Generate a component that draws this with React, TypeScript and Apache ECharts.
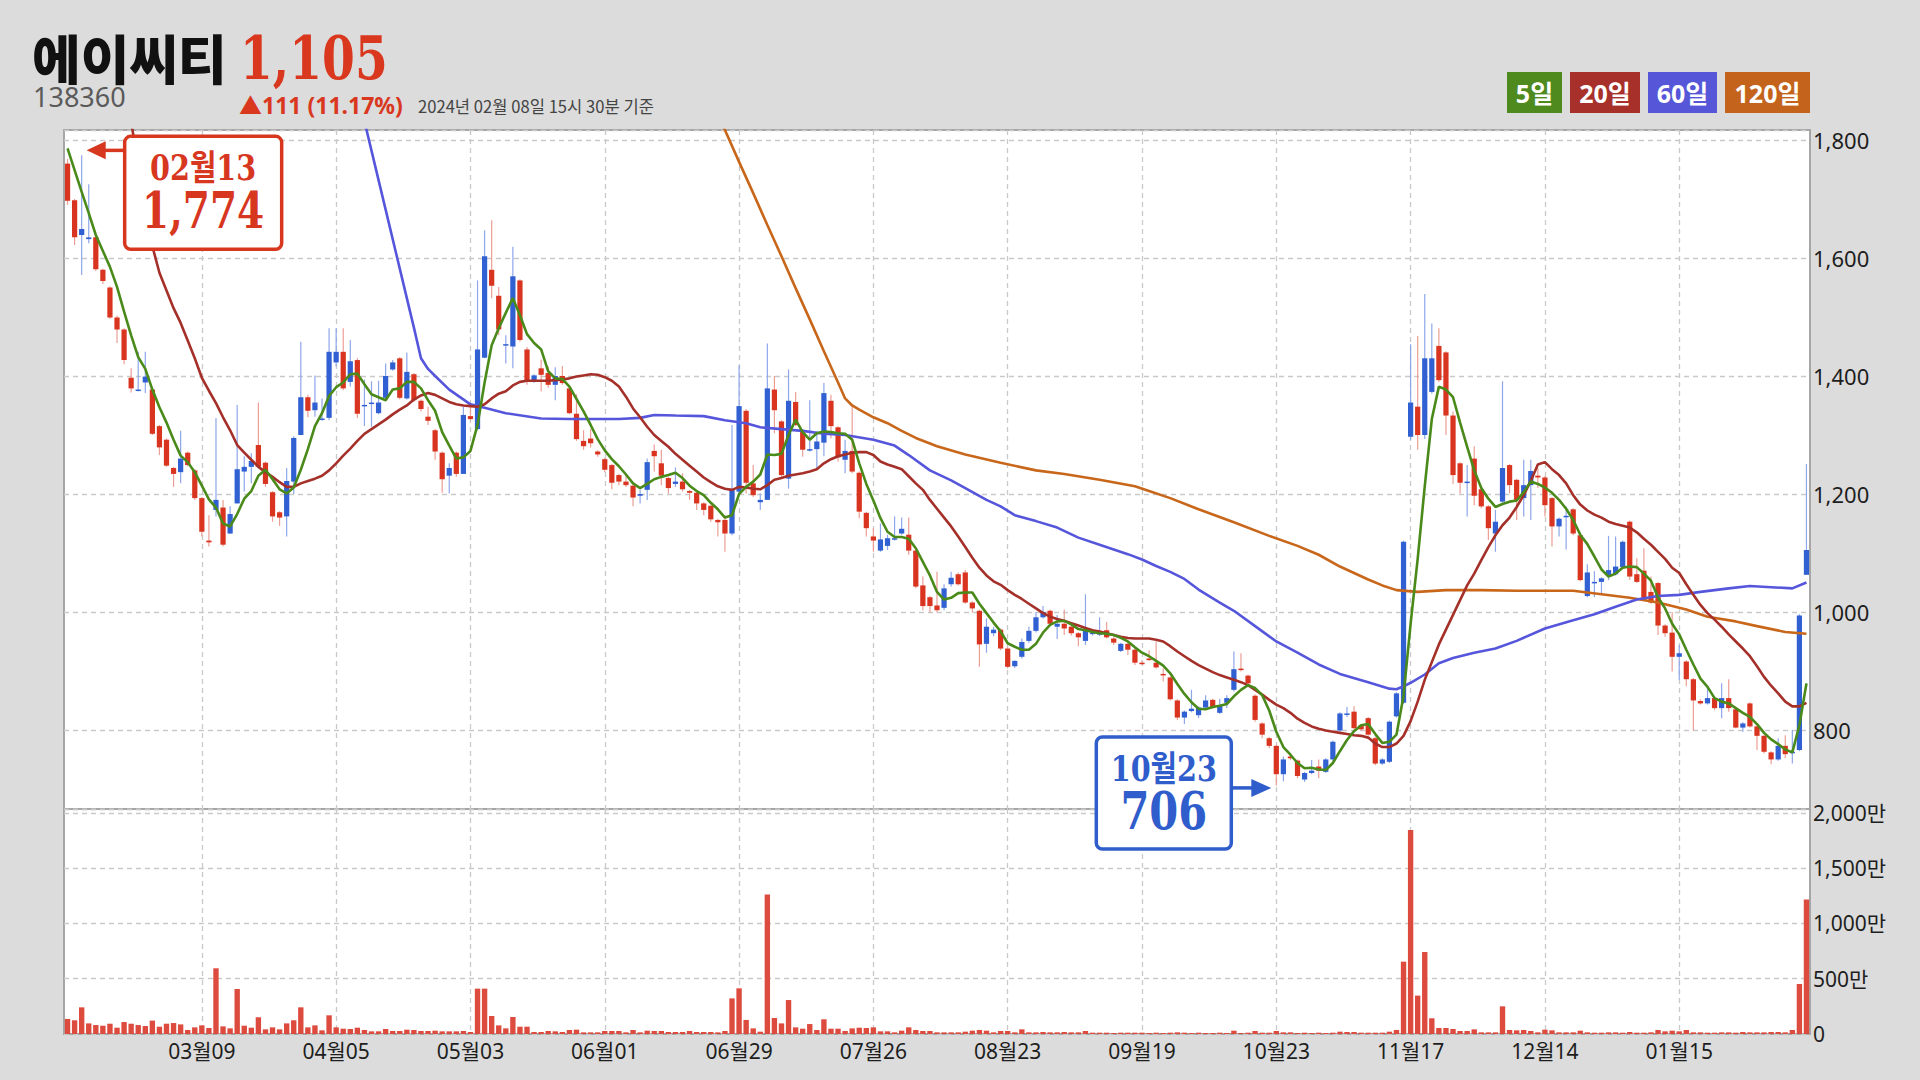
import React, { useEffect, useRef } from 'react';
import * as echarts from 'echarts';

// ---------------- data ----------------
const MONTH_DAYS: [string, number[]][] = [
  ['02', [9, 10, 13, 14, 15, 16, 17, 20, 21, 22, 23, 24, 27, 28]],
  ['03', [2, 3, 6, 7, 8, 9, 10, 13, 14, 15, 16, 17, 20, 21, 22, 23, 24, 27, 28, 29, 30, 31]],
  ['04', [3, 4, 5, 6, 7, 10, 11, 12, 13, 14, 17, 18, 19, 20, 21, 24, 25, 26, 27, 28]],
  ['05', [2, 3, 4, 8, 9, 10, 11, 12, 15, 16, 17, 18, 19, 22, 23, 24, 25, 26, 30, 31]],
  ['06', [1, 2, 5, 7, 8, 9, 12, 13, 14, 15, 16, 19, 20, 21, 22, 23, 26, 27, 28, 29, 30]],
  ['07', [3, 4, 5, 6, 7, 10, 11, 12, 13, 14, 17, 18, 19, 20, 21, 24, 25, 26, 27, 28, 31]],
  ['08', [1, 2, 3, 4, 7, 8, 9, 10, 11, 14, 16, 17, 18, 21, 22, 23, 24, 25, 28, 29, 30, 31]],
  ['09', [1, 4, 5, 6, 7, 8, 11, 12, 13, 14, 15, 18, 19, 20, 21, 22, 25, 26, 27]],
  ['10', [4, 5, 6, 10, 11, 12, 13, 16, 17, 18, 19, 20, 23, 24, 25, 26, 27, 30, 31]],
  ['11', [1, 2, 3, 6, 7, 8, 9, 10, 13, 14, 15, 16, 17, 20, 21, 22, 23, 24, 27, 28, 29, 30]],
  ['12', [1, 4, 5, 6, 7, 8, 11, 12, 13, 14, 15, 18, 19, 20, 21, 22, 26, 27, 28]],
  ['01', [2, 3, 4, 5, 8, 9, 10, 11, 12, 15, 16, 17, 18, 19, 22, 23, 24, 25, 26, 29, 30, 31]],
  ['02', [1, 2, 5, 6, 7, 8]],
];
const DATES: string[] = MONTH_DAYS.flatMap(([m, ds]) => ds.map((d) => `${m}월${String(d).padStart(2, '0')}`));

const TICK_LABELS = ['03월09', '04월05', '05월03', '06월01', '06월29', '07월26', '08월23', '09월19', '10월23', '11월17', '12월14', '01월15'];

const OPEN = [
  1760, 1698, 1639, 1632, 1635, 1580, 1550, 1499, 1479, 1397,
  1375, 1389, 1377, 1315, 1292, 1244, 1237, 1270, 1240, 1193,
  1121, 1173, 1177, 1133, 1184, 1238, 1246, 1283, 1253, 1203,
  1169, 1162, 1221, 1300, 1364, 1342, 1327, 1329, 1423, 1441,
  1390, 1427, 1349, 1353, 1337, 1363, 1411, 1430, 1362, 1403,
  1358, 1331, 1308, 1270, 1231, 1270, 1234, 1332, 1310, 1431,
  1580, 1536, 1453, 1450, 1562, 1445, 1393, 1413, 1405, 1385,
  1400, 1379, 1336, 1290, 1294, 1272, 1259, 1249, 1232, 1221,
  1214, 1197, 1207, 1273, 1252, 1227, 1217, 1221, 1205, 1202,
  1184, 1180, 1156, 1156, 1133, 1204, 1341, 1218, 1186, 1190,
  1377, 1323, 1226, 1356, 1308, 1275, 1276, 1287, 1358, 1313,
  1258, 1273, 1236, 1168, 1128, 1104, 1112, 1123, 1133, 1131,
  1104, 1045, 1025, 1011, 1007, 1047, 1064, 1067, 1016, 1002,
  946, 964, 970, 938, 908, 924, 951, 968, 991, 1002,
  975, 980, 975, 964, 951, 963, 962, 969, 955, 934,
  946, 936, 914, 921, 914, 895, 889, 850, 821, 832,
  825, 838, 851, 829, 846, 868, 904, 892, 858, 811,
  786, 773, 725, 755, 748, 716, 727, 738, 729, 750,
  799, 827, 831, 808, 820, 786, 743, 746, 823, 846,
  1297, 1348, 1300, 1373, 1451, 1440, 1333, 1252, 1219, 1260,
  1208, 1179, 1133, 1187, 1249, 1224, 1193, 1215, 1231, 1228,
  1193, 1145, 1162, 1174, 1130, 1027, 1050, 1051, 1061, 1064,
  1076, 1153, 1064, 1070, 1034, 1049, 977, 965, 924, 916,
  886, 849, 845, 854, 837, 854, 835, 804, 845, 806,
  790, 762, 750, 773, 761, 766, 1063,
];
const CLOSE = [
  1697, 1635, 1649, 1635, 1581, 1561, 1499, 1479, 1427, 1379,
  1377, 1399, 1302, 1279, 1248, 1234, 1260, 1249, 1193, 1136,
  1118, 1190, 1114, 1166, 1242, 1246, 1256, 1246, 1217, 1162,
  1160, 1222, 1295, 1364, 1341, 1355, 1328, 1441, 1441, 1379,
  1425, 1336, 1351, 1355, 1355, 1400, 1423, 1363, 1407, 1359,
  1344, 1324, 1272, 1225, 1244, 1234, 1334, 1327, 1445, 1603,
  1553, 1479, 1454, 1569, 1461, 1393, 1401, 1402, 1385, 1400,
  1388, 1337, 1293, 1281, 1286, 1267, 1241, 1219, 1221, 1215,
  1194, 1200, 1254, 1264, 1231, 1210, 1221, 1208, 1202, 1184,
  1173, 1157, 1152, 1133, 1207, 1349, 1219, 1198, 1190, 1379,
  1342, 1232, 1358, 1317, 1275, 1276, 1289, 1371, 1315, 1262,
  1273, 1238, 1170, 1142, 1121, 1123, 1125, 1125, 1141, 1104,
  1043, 1010, 1010, 1003, 1040, 1058, 1047, 1016, 1006, 945,
  975, 970, 938, 907, 917, 949, 968, 991, 1000, 980,
  980, 972, 964, 957, 971, 965, 964, 957, 948, 946,
  936, 914, 912, 919, 906, 893, 852, 821, 831, 836,
  838, 850, 838, 841, 854, 903, 902, 879, 817, 792,
  773, 725, 750, 752, 722, 727, 731, 731, 750, 780,
  828, 828, 803, 801, 792, 743, 750, 814, 862, 1119,
  1355, 1300, 1430, 1430, 1393, 1333, 1232, 1219, 1221, 1197,
  1179, 1142, 1153, 1244, 1215, 1190, 1215, 1239, 1228, 1181,
  1145, 1158, 1163, 1133, 1054, 1067, 1051, 1057, 1071, 1077,
  1119, 1060, 1051, 1020, 1016, 977, 964, 924, 930, 886,
  850, 845, 854, 837, 854, 837, 804, 811, 806, 790,
  763, 750, 773, 759, 763, 994, 1105,
];
const LOW = [
  1690, 1622, 1571, 1625, 1578, 1556, 1497, 1456, 1420, 1372,
  1374, 1371, 1300, 1266, 1246, 1212, 1218, 1247, 1190, 1128,
  1111, 1162, 1111, 1132, 1184, 1204, 1218, 1244, 1212, 1153,
  1146, 1128, 1200, 1300, 1330, 1331, 1324, 1325, 1416, 1376,
  1382, 1329, 1315, 1314, 1335, 1359, 1409, 1360, 1360, 1356,
  1340, 1317, 1258, 1202, 1201, 1229, 1234, 1325, 1308, 1430,
  1532, 1469, 1421, 1413, 1458, 1385, 1388, 1374, 1380, 1359,
  1385, 1335, 1290, 1275, 1279, 1263, 1237, 1208, 1215, 1212,
  1179, 1184, 1190, 1238, 1215, 1201, 1212, 1204, 1190, 1173,
  1164, 1153, 1128, 1102, 1130, 1201, 1201, 1195, 1173, 1190,
  1303, 1229, 1209, 1315, 1263, 1272, 1244, 1264, 1294, 1255,
  1235, 1235, 1159, 1128, 1102, 1102, 1105, 1121, 1131, 1097,
  1040, 1003, 999, 999, 1003, 1043, 1045, 1014, 999, 907,
  931, 959, 935, 904, 905, 921, 948, 965, 989, 977,
  954, 961, 960, 942, 944, 960, 959, 955, 944, 932,
  927, 910, 910, 917, 904, 882, 850, 817, 810, 830,
  820, 836, 836, 827, 837, 865, 899, 873, 814, 786,
  769, 706, 713, 749, 718, 712, 725, 718, 727, 748,
  797, 822, 801, 799, 790, 740, 741, 744, 821, 844,
  1292, 1275, 1293, 1370, 1390, 1300, 1217, 1201, 1162, 1181,
  1176, 1122, 1102, 1184, 1201, 1156, 1162, 1156, 1210, 1162,
  1111, 1128, 1106, 1130, 1052, 1025, 1025, 1032, 1054, 1062,
  1074, 1054, 1049, 1018, 1014, 961, 958, 899, 885, 874,
  799, 843, 843, 834, 820, 831, 803, 797, 804, 766,
  760, 742, 748, 752, 743, 764, 1063,
];
const HIGH = [
  1768, 1700, 1774, 1725, 1640, 1582, 1552, 1502, 1481, 1413,
  1441, 1441, 1379, 1317, 1294, 1246, 1307, 1272, 1242, 1195,
  1164, 1329, 1190, 1179, 1351, 1264, 1269, 1355, 1255, 1205,
  1171, 1244, 1298, 1458, 1368, 1401, 1362, 1481, 1481, 1481,
  1461, 1430, 1394, 1391, 1392, 1421, 1427, 1432, 1440, 1405,
  1360, 1348, 1310, 1272, 1252, 1272, 1348, 1349, 1562, 1647,
  1664, 1551, 1469, 1619, 1564, 1449, 1403, 1428, 1416, 1415,
  1417, 1381, 1369, 1308, 1310, 1274, 1261, 1251, 1234, 1235,
  1216, 1207, 1260, 1284, 1275, 1229, 1245, 1235, 1207, 1204,
  1186, 1182, 1158, 1164, 1317, 1418, 1344, 1249, 1201, 1455,
  1400, 1325, 1411, 1373, 1310, 1359, 1306, 1388, 1368, 1315,
  1292, 1351, 1238, 1170, 1142, 1150, 1131, 1162, 1160, 1160,
  1106, 1060, 1027, 1068, 1047, 1068, 1067, 1071, 1018, 1004,
  989, 975, 972, 940, 918, 955, 975, 1000, 1010, 1004,
  995, 1004, 977, 966, 1030, 968, 991, 983, 957, 948,
  948, 938, 918, 935, 950, 904, 891, 852, 833, 868,
  840, 859, 853, 853, 859, 933, 930, 894, 860, 813,
  788, 775, 755, 757, 750, 729, 749, 750, 752, 782,
  830, 839, 840, 810, 822, 788, 752, 816, 864, 1121,
  1454, 1468, 1539, 1489, 1481, 1442, 1340, 1254, 1249, 1281,
  1210, 1181, 1173, 1391, 1251, 1226, 1258, 1258, 1244, 1230,
  1195, 1160, 1179, 1176, 1132, 1081, 1069, 1059, 1129, 1128,
  1121, 1155, 1091, 1108, 1060, 1051, 979, 1000, 944, 918,
  888, 852, 873, 856, 879, 886, 837, 813, 847, 808,
  792, 764, 786, 791, 800, 996, 1251,
];
// volume in 만주
const VOLUME = [
  136, 124, 241, 96, 81, 75, 93, 57, 108, 93,
  81, 72, 121, 66, 93, 99, 87, 36, 60, 78,
  54, 594, 69, 51, 407, 75, 57, 151, 42, 60,
  42, 96, 124, 241, 60, 78, 33, 169, 60, 48,
  45, 57, 36, 24, 24, 45, 27, 27, 39, 36,
  27, 27, 30, 24, 24, 24, 27, 18, 410, 410,
  163, 78, 51, 154, 66, 66, 18, 18, 27, 24,
  18, 36, 39, 15, 15, 15, 27, 27, 27, 15,
  36, 15, 30, 27, 27, 18, 18, 18, 27, 18,
  18, 18, 15, 27, 322, 413, 127, 51, 21, 1260,
  145, 96, 307, 60, 48, 90, 36, 133, 48, 48,
  27, 51, 57, 54, 60, 24, 24, 15, 30, 60,
  36, 27, 27, 15, 15, 15, 15, 21, 30, 36,
  30, 15, 27, 27, 15, 42, 15, 15, 18, 15,
  15, 18, 15, 15, 27, 12, 12, 12, 9, 12,
  12, 12, 12, 9, 12, 9, 12, 15, 12, 9,
  12, 9, 9, 12, 9, 30, 9, 12, 27, 12,
  12, 27, 15, 15, 9, 12, 9, 12, 9, 12,
  21, 18, 18, 12, 12, 12, 12, 21, 36, 654,
  1845, 347, 741, 142, 54, 54, 45, 27, 27, 42,
  15, 15, 15, 250, 36, 33, 36, 27, 15, 39,
  33, 15, 15, 15, 30, 15, 12, 12, 15, 15,
  12, 18, 12, 12, 15, 36, 24, 30, 24, 36,
  15, 15, 12, 12, 15, 15, 12, 18, 15, 15,
  15, 18, 18, 15, 36, 452, 1215,
];
const MA5 = [
  1786, 1749, 1712, 1676, 1639, 1612, 1585, 1551, 1509, 1469,
  1432, 1412, 1377, 1347, 1321, 1292, 1265, 1254, 1237, 1214,
  1191, 1177, 1150, 1145, 1166, 1192, 1205, 1231, 1241, 1225,
  1208, 1201, 1211, 1241, 1276, 1315, 1337, 1366, 1381, 1389,
  1403, 1404, 1386, 1369, 1364, 1359, 1377, 1379, 1390, 1390,
  1379, 1359, 1341, 1305, 1282, 1260, 1262, 1273, 1317, 1389,
  1452, 1481, 1507, 1532, 1503, 1471, 1456, 1445, 1408, 1396,
  1395, 1382, 1361, 1340, 1317, 1293, 1274, 1259, 1247, 1233,
  1218, 1210, 1217, 1225, 1229, 1232, 1236, 1227, 1214, 1205,
  1198, 1185, 1174, 1160, 1164, 1200, 1212, 1221, 1233, 1267,
  1266, 1268, 1300, 1326, 1305, 1292, 1303, 1306, 1305, 1303,
  1302, 1292, 1252, 1217, 1189, 1159, 1136, 1127, 1127, 1124,
  1108, 1085, 1062, 1034, 1021, 1024, 1032, 1033, 1033, 1014,
  998, 982, 967, 947, 941, 936, 936, 946, 965, 978,
  984, 985, 979, 971, 969, 966, 964, 963, 961, 956,
  950, 940, 931, 925, 917, 909, 896, 878, 861, 847,
  836, 835, 839, 841, 844, 857, 868, 876, 871, 859,
  833, 797, 771, 758, 744, 735, 736, 733, 732, 744,
  764, 783, 798, 808, 810, 793, 778, 780, 792, 858,
  980, 1090, 1213, 1327, 1382, 1377, 1364, 1321, 1280, 1240,
  1210, 1192, 1178, 1183, 1187, 1189, 1203, 1221, 1217, 1211,
  1202, 1190, 1175, 1156, 1131, 1115, 1094, 1072, 1060, 1065,
  1075, 1077, 1076, 1065, 1053, 1025, 1006, 980, 962, 936,
  911, 887, 873, 854, 848, 845, 837, 829, 822, 810,
  795, 784, 776, 767, 762, 808, 879,
];
const MA20 = [
  null, null, null, null, null, null, null, null, 1880, 1830,
  1760, 1690, 1620, 1575, 1545, 1515, 1490, 1460, 1430, 1397,
  1375, 1354, 1330, 1308, 1283, 1270, 1258, 1246, 1237, 1229,
  1220, 1212, 1212, 1218, 1222, 1226, 1231, 1240, 1252, 1265,
  1277, 1290, 1302, 1310, 1318, 1326, 1335, 1343, 1350, 1360,
  1367, 1371, 1368, 1362, 1356, 1352, 1350, 1349, 1348, 1352,
  1362, 1370, 1374, 1384, 1390, 1392, 1392, 1392, 1392, 1393,
  1394, 1396, 1399, 1401, 1403, 1402, 1398, 1392, 1382, 1365,
  1345, 1330, 1314, 1300, 1290, 1280, 1268, 1258, 1248, 1238,
  1228, 1220, 1213, 1209, 1207, 1212, 1211, 1209, 1208, 1215,
  1224, 1227, 1231, 1233, 1235, 1238, 1242, 1252, 1259, 1264,
  1267, 1270, 1271, 1271, 1266, 1255, 1250, 1246, 1242, 1230,
  1218, 1207, 1190, 1175, 1160, 1145, 1128, 1110, 1092, 1075,
  1062, 1052, 1046, 1037, 1029, 1022, 1014, 1006, 998, 992,
  988, 985, 981, 977, 973, 969, 967, 964, 961, 958,
  956, 955, 955, 955, 953, 950, 942, 933, 925, 917,
  910, 904, 898, 893, 889, 885, 881, 876, 868, 860,
  851, 843, 837, 829, 819, 812, 806, 802, 799, 797,
  795, 793, 791, 790, 787, 777, 771, 771, 777, 790,
  815, 848, 885, 915, 945, 970, 995, 1020, 1045, 1065,
  1088, 1110, 1130, 1147, 1160, 1178, 1198, 1222, 1250, 1254,
  1242, 1232, 1218, 1198, 1182, 1172, 1165, 1160, 1153, 1149,
  1146, 1143, 1135, 1124, 1114, 1102, 1090, 1075, 1066, 1047,
  1029, 1012, 998, 987, 975, 962, 950, 938, 925, 908,
  890, 875, 862, 848, 840, 840, 846,
];
// [trading-day index, value]
const MA60: [number, number][] = [
  [41, 1882], [43, 1782], [45, 1682], [47, 1582], [49, 1482], [50, 1430], [51, 1412], [52, 1400],
  [54, 1377], [57, 1352], [59, 1346], [62, 1337], [67, 1328], [71, 1327], [78, 1327], [81, 1329],
  [83, 1334], [86, 1333], [90, 1332], [93, 1325], [96, 1320], [98, 1313], [101, 1310], [104, 1307],
  [107, 1302], [110, 1300], [114, 1292], [117, 1282], [119, 1266], [122, 1240], [125, 1223], [127, 1210],
  [130, 1190], [132, 1179], [134, 1164], [137, 1154], [140, 1143], [143, 1126], [146, 1114], [150, 1098],
  [152, 1089], [154, 1078], [156, 1068], [158, 1056], [160, 1038], [163, 1016], [165, 1002], [168, 976],
  [171, 950], [174, 931], [177, 911], [180, 895], [184, 881], [187, 870], [188, 869], [189, 874],
  [190, 880], [192, 894], [194, 913], [196, 922], [199, 931], [202, 938], [205, 951], [209, 972],
  [213, 986], [216, 996], [219, 1009], [222, 1021], [225, 1027], [228, 1029], [231, 1034], [235, 1040],
  [238, 1044], [241, 1042], [244, 1040], [246, 1050],
];
const MA120: [number, number][] = [
  [91, 1870], [93, 1817], [95, 1763], [97, 1710], [99, 1656], [101, 1603], [103, 1549], [105, 1496],
  [107, 1442], [109, 1389], [110, 1362], [111, 1350], [112, 1343], [114, 1330], [116, 1320], [118, 1307],
  [120, 1295], [123, 1281], [127, 1267], [132, 1253], [137, 1240], [141, 1234], [146, 1224], [151, 1213],
  [153, 1205], [156, 1193], [160, 1174], [165, 1152], [170, 1129], [174, 1112], [177, 1097], [180, 1077],
  [184, 1055], [186, 1045], [188, 1037], [191, 1034], [195, 1037], [200, 1037], [205, 1036], [213, 1036],
  [217, 1030], [221, 1024], [225, 1016], [229, 1004], [232, 992], [236, 984], [239, 976], [243, 966],
  [246, 963],
];

const HEADER = {
  name: '에이씨티',
  code: '138360',
  price: '1,105',
  change: '▲111 (11.17%)',
  asOf: '2024년 02월 08일 15시 30분 기준',
};
const LEGEND = [
  { label: '5일', color: '#4E8A1E' },
  { label: '20일', color: '#A8302A' },
  { label: '60일', color: '#5656D8' },
  { label: '120일', color: '#C4631C' },
];
const ANNOTATIONS = [
  { index: 2, value: 1774, side: 'right', color: '#D7361F' },
  { index: 171, value: 706, side: 'left', color: '#2F5DCB' },
];

// ---------------- style ----------------
const BG = '#DCDCDC';
const UP = '#3160D2';
const UP_WICK = '#8EA7EA';
const DOWN = '#D9341F';
const DOWN_WICK = '#EC9E95';
const VOL = '#DD4A3E';
const GRIDLINE = { color: '#C9C9C9', width: 1.3, type: [5, 4] as any };
const SANS = '"Noto Sans", "Noto Sans CJK KR", sans-serif';
const KR = '"Noto Sans CJK KR", "Noto Sans", sans-serif';
const SERIF = '"DejaVu Serif", "Noto Sans CJK KR", serif';
const MA_COLORS = ['#4A8A1A', '#A5302A', '#5656DC', '#C8661A'];

const isTick = (_i: number, v: string) => TICK_LABELS.includes(v);
const fmt = (v: number) => v.toLocaleString('en-US');

function buildOption(): any {
  return {
    animation: false,
    backgroundColor: BG,
    textStyle: { fontFamily: SANS },
    grid: [
      { left: 64, top: 130, width: 1746, height: 679, show: true, backgroundColor: '#FFFFFF', borderColor: '#A6A6A6', borderWidth: 2, containLabel: false, outerBoundsMode: 'none' },
      { left: 64, top: 809, width: 1746, height: 225, show: true, backgroundColor: '#FFFFFF', borderColor: '#A6A6A6', borderWidth: 2, containLabel: false, outerBoundsMode: 'none' },
    ],
    xAxis: [
      {
        type: 'category', gridIndex: 0, data: DATES, boundaryGap: true,
        axisLine: { show: false }, axisTick: { show: false }, axisLabel: { show: false },
        splitLine: { show: true, interval: isTick, alignWithLabel: true, lineStyle: GRIDLINE },
      },
      {
        type: 'category', gridIndex: 1, data: DATES, boundaryGap: true,
        axisLine: { show: false }, axisTick: { show: false },
        axisLabel: { show: true, interval: isTick, fontSize: 21, color: '#1E1E1E', margin: 6, fontFamily: SANS },
        splitLine: { show: true, interval: isTick, alignWithLabel: true, lineStyle: GRIDLINE },
      },
    ],
    yAxis: [
      {
        type: 'value', gridIndex: 0, position: 'right', min: 666, max: 1817, splitNumber: 5, scale: true,
        axisLine: { show: false }, axisTick: { show: false },
        axisLabel: { fontSize: 22, color: '#1E1E1E', margin: 3, fontFamily: SANS, formatter: (v: number) => fmt(v), showMinLabel: false, showMaxLabel: false },
        splitLine: { show: true, lineStyle: GRIDLINE },
      },
      {
        type: 'value', gridIndex: 1, position: 'right', min: 0, max: 2034, splitNumber: 5,
        axisLine: { show: false }, axisTick: { show: false },
        axisLabel: { fontSize: 21, color: '#1E1E1E', margin: 3, fontFamily: SANS, formatter: (v: number) => (v === 0 ? '0' : fmt(v) + '만'), showMinLabel: true, showMaxLabel: false },
        splitLine: { show: true, lineStyle: GRIDLINE },
      },
    ],
    series: [
      {
        type: 'custom', name: 'candles', xAxisIndex: 0, yAxisIndex: 0, clip: true, silent: true, z: 2,
        dimensions: ['idx', 'open', 'close', 'low', 'high'],
        encode: { x: 0, y: [1, 2, 3, 4] },
        data: DATES.map((_, i) => [i, OPEN[i], CLOSE[i], LOW[i], HIGH[i]]),
        renderItem: (_params: any, api: any) => {
          const i = api.value(0);
          const o = api.value(1);
          const c = api.value(2);
          const l = api.value(3);
          const h = api.value(4);
          const pH = api.coord([i, h]);
          const pL = api.coord([i, l]);
          const pO = api.coord([i, o]);
          const pC = api.coord([i, c]);
          const bw = api.size([1, 0])[0] * 0.74;
          const up = c >= o;
          const top = Math.min(pO[1], pC[1]);
          const hh = Math.max(1.5, Math.abs(pO[1] - pC[1]));
          return {
            type: 'group',
            children: [
              { type: 'line', shape: { x1: pH[0], y1: pH[1], x2: pL[0], y2: pL[1] }, style: { stroke: up ? UP_WICK : DOWN_WICK, lineWidth: 1.2 } },
              { type: 'rect', shape: { x: pO[0] - bw / 2, y: top, width: bw, height: hh }, style: { fill: up ? UP : DOWN } },
            ],
          };
        },
      },
      { type: 'line', name: '120일', xAxisIndex: 0, yAxisIndex: 0, data: MA120, showSymbol: false, symbol: 'none', silent: true, z: 3, lineStyle: { width: 2.6, color: MA_COLORS[3] }, itemStyle: { color: MA_COLORS[3] } },
      { type: 'line', name: '60일', xAxisIndex: 0, yAxisIndex: 0, data: MA60, showSymbol: false, symbol: 'none', silent: true, z: 3, lineStyle: { width: 2.6, color: MA_COLORS[2] }, itemStyle: { color: MA_COLORS[2] } },
      { type: 'line', name: '20일', xAxisIndex: 0, yAxisIndex: 0, data: MA20, showSymbol: false, symbol: 'none', silent: true, z: 4, lineStyle: { width: 2.6, color: MA_COLORS[1] }, itemStyle: { color: MA_COLORS[1] } },
      { type: 'line', name: '5일', xAxisIndex: 0, yAxisIndex: 0, data: MA5, showSymbol: false, symbol: 'none', silent: true, z: 5, lineStyle: { width: 2.6, color: MA_COLORS[0] }, itemStyle: { color: MA_COLORS[0] } },
      { type: 'bar', name: '거래량', xAxisIndex: 1, yAxisIndex: 1, data: VOLUME, barWidth: '76%', silent: true, itemStyle: { color: VOL } },
    ],
  };
}

function txt(x: number, y: number, text: string, style: any, extra: any = {}) {
  return { type: 'text', x, y, z: 100, ...extra, style: { text, textVerticalAlign: 'middle', ...style } };
}

function buildGraphics(chart: any): any[] {
  const g: any[] = [];
  // header
  g.push(txt(32, 56, HEADER.name, { fill: '#111111', fontSize: 54, fontWeight: 900, fontFamily: KR, textAlign: 'left' }, { scaleX: 0.98 }));
  g.push(txt(240, 59, HEADER.price, { fill: '#D9371E', fontSize: 59, fontWeight: 'bold', fontFamily: SERIF, textAlign: 'left' }, { scaleX: 0.8 }));
  g.push(txt(33, 96, HEADER.code, { fill: '#5A5A5A', fontSize: 27, fontFamily: SANS, textAlign: 'left' }));
  g.push(txt(239, 105, HEADER.change, { fill: '#D9371E', fontSize: 23, fontWeight: 'bold', fontFamily: SANS, textAlign: 'left' }));
  g.push(txt(418, 106, HEADER.asOf, { fill: '#444444', fontSize: 16.6, fontFamily: KR, textAlign: 'left' }));

  // legend boxes
  const boxes = [[1507, 55], [1570, 70], [1648, 69], [1725, 85]];
  LEGEND.forEach((it, k) => {
    const [bx, bw] = boxes[k];
    g.push({ type: 'rect', z: 100, shape: { x: bx, y: 72, width: bw, height: 41 }, style: { fill: it.color } });
    g.push(txt(bx + bw / 2, 93, it.label, { fill: '#FFFFFF', fontSize: 25, fontWeight: 'bold', fontFamily: SANS, textAlign: 'center' }));
  });

  // annotations for the highest high and the lowest low
  ANNOTATIONS.forEach((a) => {
    const pt = chart.convertToPixel({ gridIndex: 0 }, [a.index, a.value]);
    const px = pt[0];
    const py = pt[1];
    const dateLabel = DATES[a.index];
    const valueLabel = fmt(a.value);
    if (a.side === 'right') {
      const tx = px + 5;
      const ty = py - 5;
      const bw = 157, bh = 113;
      const bx = tx + 38, by = ty - 14;
      g.push({ type: 'line', z: 100, shape: { x1: tx + 15, y1: ty, x2: bx, y2: ty }, style: { stroke: a.color, lineWidth: 3.5 } });
      g.push({ type: 'polygon', z: 100, shape: { points: [[tx, ty], [tx + 19, ty - 9], [tx + 19, ty + 9]] }, style: { fill: a.color } });
      g.push({ type: 'rect', z: 100, shape: { x: bx, y: by, width: bw, height: bh, r: 6 }, style: { fill: '#FFFFFF', stroke: a.color, lineWidth: 3.5 } });
      g.push(txt(bx + bw / 2, by + 32, dateLabel, { fill: a.color, fontSize: 35, fontWeight: 'bold', fontFamily: SERIF, textAlign: 'center' }, { z: 101, scaleX: 0.82 }));
      g.push(txt(bx + bw / 2, by + 74, valueLabel, { fill: a.color, fontSize: 50, fontWeight: 'bold', fontFamily: SERIF, textAlign: 'center' }, { z: 101, scaleX: 0.78 }));
    } else {
      const tx = px - 5;
      const ty = py + 2.5;
      const bw = 135, bh = 112;
      const bx = tx - 40 - bw, by = ty - 51;
      g.push({ type: 'line', z: 100, shape: { x1: bx + bw, y1: ty, x2: tx - 15, y2: ty }, style: { stroke: a.color, lineWidth: 3.5 } });
      g.push({ type: 'polygon', z: 100, shape: { points: [[tx, ty], [tx - 20, ty - 9], [tx - 20, ty + 9]] }, style: { fill: a.color } });
      g.push({ type: 'rect', z: 100, shape: { x: bx, y: by, width: bw, height: bh, r: 6 }, style: { fill: '#FFFFFF', stroke: a.color, lineWidth: 3.5 } });
      g.push(txt(bx + bw / 2, by + 32, dateLabel, { fill: a.color, fontSize: 35, fontWeight: 'bold', fontFamily: SERIF, textAlign: 'center' }, { z: 101, scaleX: 0.82 }));
      g.push(txt(bx + bw / 2, by + 74, valueLabel, { fill: a.color, fontSize: 52, fontWeight: 'bold', fontFamily: SERIF, textAlign: 'center' }, { z: 101, scaleX: 0.8 }));
    }
  });
  return g;
}

export default function App() {
  const ref = useRef<HTMLDivElement>(null);
  useEffect(() => {
    if (!ref.current) return;
    const chart = echarts.init(ref.current, null, { renderer: 'svg' });
    chart.setOption(buildOption());
    chart.setOption({ graphic: { elements: buildGraphics(chart) } });
    return () => chart.dispose();
  }, []);
  return <div ref={ref} style={{ position: 'fixed', left: 0, top: 0, width: 1920, height: 1080 }} />;
}
